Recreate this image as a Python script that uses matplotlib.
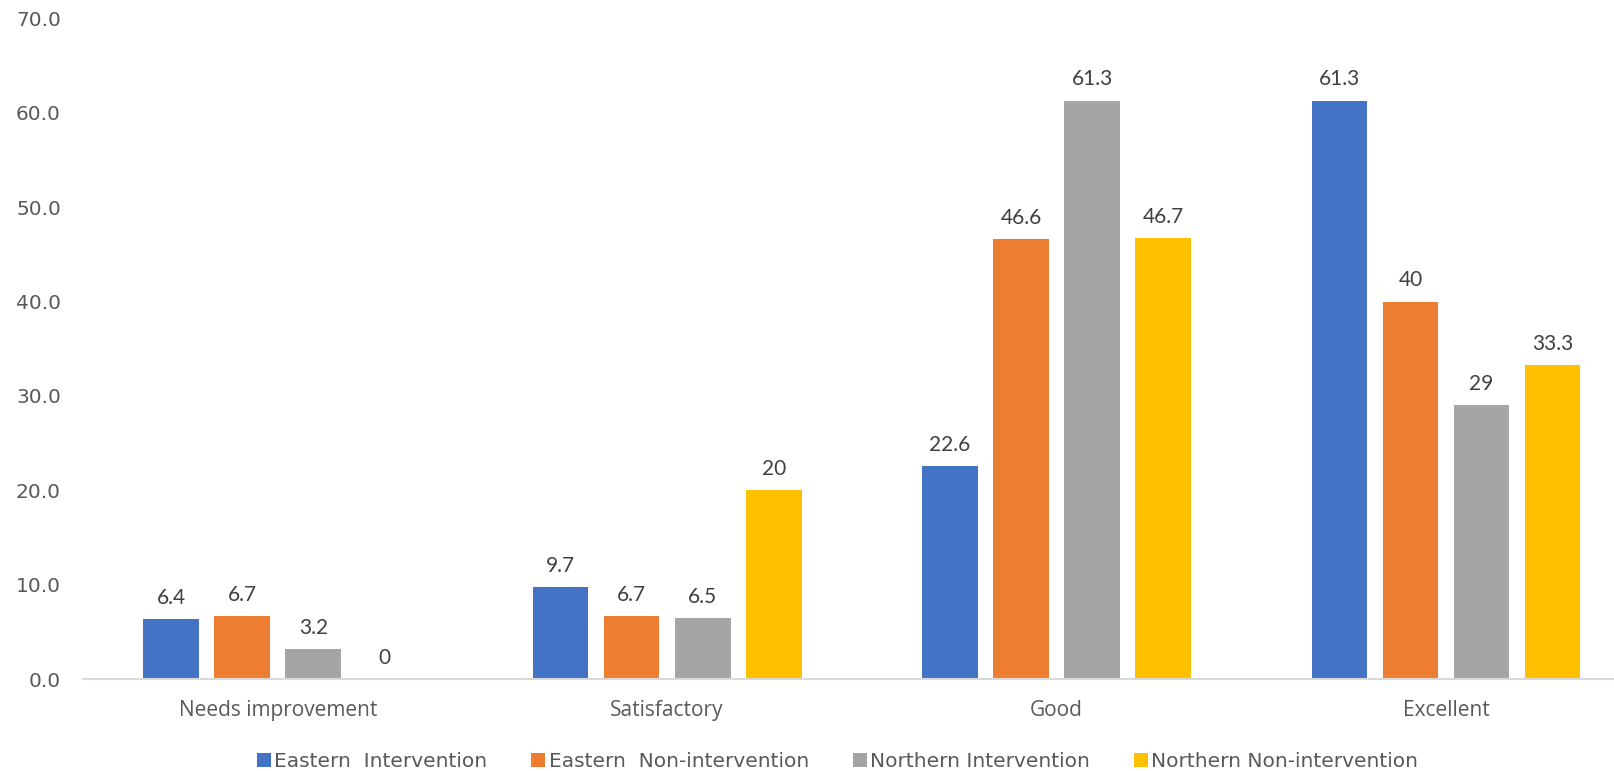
import matplotlib
matplotlib.use("Agg")
import matplotlib.pyplot as plt
import numpy as np
from matplotlib.patches import Patch

categories = ["Needs improvement", "Satisfactory", "Good", "Excellent"]
series_names = ["Eastern  Intervention", "Eastern  Non-intervention",
                "Northern Intervention", "Northern Non-intervention"]
eastern_intervention = [6.4, 9.7, 22.6, 61.3]
eastern_non_intervention = [6.7, 6.7, 46.6, 40]
northern_intervention = [3.2, 6.5, 61.3, 29]
northern_non_intervention = [0, 20, 46.7, 33.3]
colors = ["#4472C4", "#ED7D31", "#A5A5A5", "#FFC000"]
yticks = [0, 10, 20, 30, 40, 50, 60, 70]

series = [eastern_intervention, eastern_non_intervention,
          northern_intervention, northern_non_intervention]

fig = plt.figure(figsize=(16.14, 7.71), dpi=100)
ax = fig.add_axes([0.0515, 0.1193, 0.965, 0.8567])

x = np.arange(len(categories))
width = 0.143
pitch = 0.1825
for i, (vals, c) in enumerate(zip(series, colors)):
    pos = x + (i - 1.5) * pitch
    ax.bar(pos, vals, width=width, color=c, zorder=2)
    for p, v in zip(pos, vals):
        ax.annotate(f"{v:g}", (p, v), xytext=(0, 8), textcoords="offset points",
                    ha="center", va="bottom", fontsize=15, color="#404040",
                    family="Lato")

ax.set_xlim(-0.5, len(categories) - 0.5)
ax.set_ylim(0, 70)
ax.set_yticks(yticks)
ax.set_yticklabels([f"{t:.1f}" for t in yticks], fontsize=14.5, color="#595959",
                   family="DejaVu Sans")
ax.set_xticks(x)
ax.set_xticklabels(categories, fontsize=15, color="#595959", family="Open Sans")
ax.tick_params(axis="both", length=0)
ax.tick_params(axis="x", pad=15)
ax.tick_params(axis="y", pad=16)
for s in ["top", "right", "left"]:
    ax.spines[s].set_visible(False)
ax.spines["bottom"].set_color("#D9D9D9")
ax.spines["bottom"].set_linewidth(1.5)

handles = [Patch(facecolor=c, edgecolor="none") for c in colors]
fig.legend(handles, series_names, loc="center", bbox_to_anchor=(0.519, 0.012),
           ncol=4, frameon=False, handlelength=0.7, handleheight=0.7,
           handletextpad=0.15, columnspacing=2.2,
           prop={"family": "Liberation Sans Narrow", "size": 14.5})
for t in fig.legends[0].get_texts():
    t.set_color("#595959")

fig.savefig("out.png", dpi=100)
